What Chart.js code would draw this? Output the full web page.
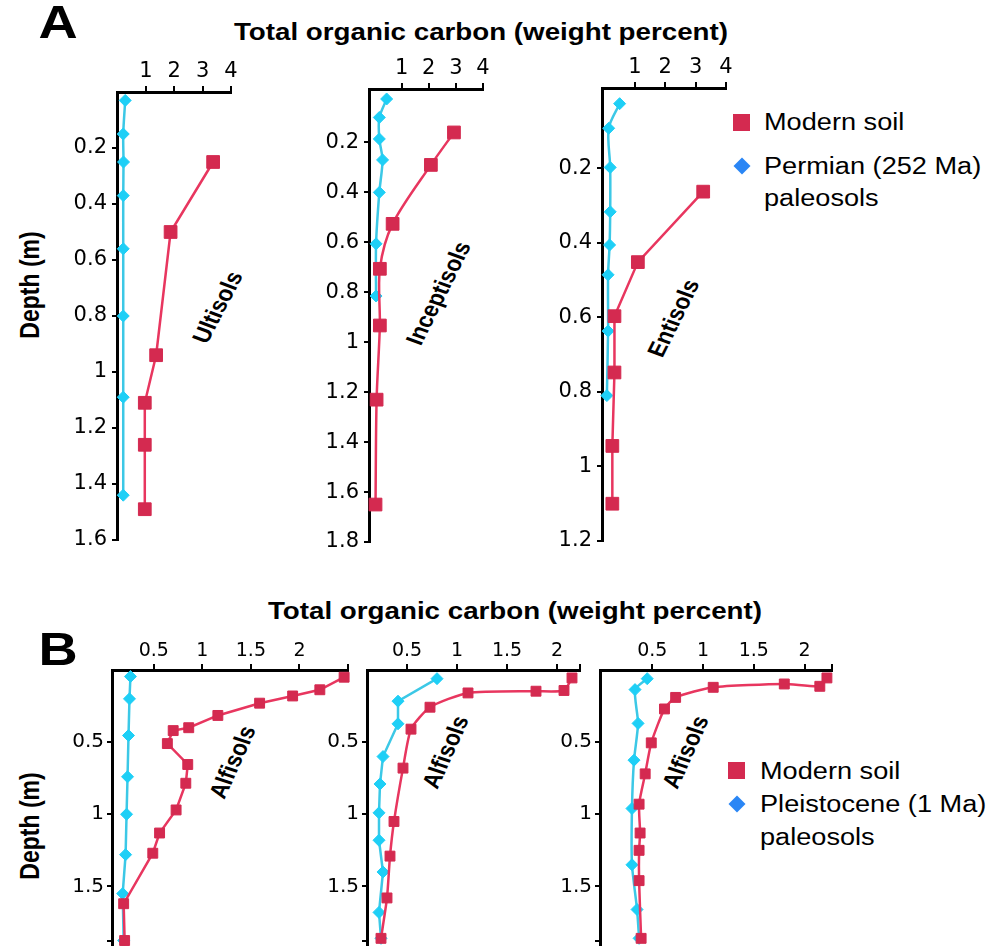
<!DOCTYPE html>
<html><head><meta charset="utf-8">
<script src="https://cdn.jsdelivr.net/npm/chart.js@4.4.1/dist/chart.umd.min.js"></script>
<style>
html,body{margin:0;padding:0;background:#fff;width:994px;height:946px;overflow:hidden;position:relative;font-family:"Liberation Sans",Arial,sans-serif;}
canvas{position:absolute;}
.t{position:absolute;white-space:nowrap;color:#000;line-height:1;}
.c{transform:translate(-50%,-50%) scaleX(1.18);}
.l{transform-origin:0 50%;transform:translateY(-50%) scaleX(1.18);}
.b{font-weight:bold;}
</style></head><body>

<div class="t b c" style="left:58px;top:22px;font-size:46px;">A</div>
<div class="t b c" style="left:58px;top:649px;font-size:46px;">B</div>
<div class="t b c" style="left:481px;top:33px;font-size:23.5px;">Total organic carbon (weight percent)</div>
<div class="t b c" style="left:515px;top:612px;font-size:23.5px;">Total organic carbon (weight percent)</div>
<div class="t b" style="left:30px;top:285px;font-size:23px;transform:translate(-50%,-50%) scaleX(1.18) rotate(-90deg);">Depth (m)</div>
<div class="t b" style="left:30px;top:826px;font-size:23px;transform:translate(-50%,-50%) scaleX(1.18) rotate(-90deg);">Depth (m)</div>

<div class="t b" style="left:217px;top:307px;font-size:21px;transform:translate(-50%,-50%) scaleX(1.18) rotate(-66deg);">Ultisols</div>
<div class="t b" style="left:438px;top:293px;font-size:21px;transform:translate(-50%,-50%) scaleX(1.18) rotate(-67deg);">Inceptisols</div>
<div class="t b" style="left:673px;top:318px;font-size:21px;transform:translate(-50%,-50%) scaleX(1.18) rotate(-67deg);">Entisols</div>
<div class="t b" style="left:232px;top:762px;font-size:21px;transform:translate(-50%,-50%) scaleX(1.18) rotate(-69deg);">Alfisols</div>
<div class="t b" style="left:445px;top:752px;font-size:21px;transform:translate(-50%,-50%) scaleX(1.18) rotate(-69deg);">Alfisols</div>
<div class="t b" style="left:685px;top:752px;font-size:21px;transform:translate(-50%,-50%) scaleX(1.18) rotate(-69deg);">Alfisols</div>

<div style="position:absolute;left:733px;top:114px;width:17px;height:17px;background:#D42A50;"></div>
<div class="t l" style="left:764px;top:122px;font-size:23px;">Modern soil</div>
<div style="position:absolute;left:736px;top:160px;width:12px;height:12px;background:#2A86F5;transform:rotate(45deg);"></div>
<div class="t l" style="left:764px;top:166px;font-size:23px;">Permian (252 Ma)</div>
<div class="t l" style="left:764px;top:198px;font-size:23px;">paleosols</div>

<div style="position:absolute;left:728px;top:762px;width:17px;height:17px;background:#D42A50;"></div>
<div class="t l" style="left:760px;top:771px;font-size:23px;">Modern soil</div>
<div style="position:absolute;left:731px;top:798px;width:12px;height:12px;background:#2A86F5;transform:rotate(45deg);"></div>
<div class="t l" style="left:760px;top:804px;font-size:23px;">Pleistocene (1 Ma)</div>
<div class="t l" style="left:760px;top:837px;font-size:23px;">paleosols</div>

<script>
// ---------- tick labels ----------
const panelAXTicks = [1, 2, 3, 4];
const ultisolsYTicks = [0.2, 0.4, 0.6, 0.8, 1, 1.2, 1.4, 1.6];
const inceptisolsYTicks = [0.2, 0.4, 0.6, 0.8, 1, 1.2, 1.4, 1.6, 1.8];
const entisolsYTicks = [0.2, 0.4, 0.6, 0.8, 1, 1.2];
const panelBXTicks = [0.5, 1, 1.5, 2];
const panelBYTicks = [0.5, 1, 1.5];

// ---------- A: Ultisols ----------
const ultisolsModernTOC = [3.37, 1.87, 1.36, 0.96, 0.96, 0.96];
const ultisolsModernDepth = [0.25, 0.50, 0.94, 1.11, 1.26, 1.49];
const ultisolsPermianTOC = [0.27, 0.20, 0.21, 0.20, 0.20, 0.20, 0.20, 0.20];
const ultisolsPermianDepth = [0.03, 0.15, 0.25, 0.37, 0.56, 0.80, 1.09, 1.44];

// ---------- A: Inceptisols ----------
const inceptisolsModernTOC = [2.93, 2.08, 0.67, 0.20, 0.20, 0.08, 0.04];
const inceptisolsModernDepth = [0.16, 0.29, 0.526, 0.706, 0.933, 1.23, 1.65];
const inceptisolsPermianTOC = [0.45, 0.18, 0.18, 0.30, 0.18, 0.06, 0.06];
const inceptisolsPermianDepth = [0.026, 0.10, 0.186, 0.27, 0.40, 0.606, 0.815];

// ---------- A: Entisols ----------
const entisolsModernTOC = [3.25, 1.10, 0.33, 0.33, 0.26, 0.26];
const entisolsModernDepth = [0.263, 0.452, 0.597, 0.748, 0.945, 1.10];
const entisolsPermianTOC = [0.50, 0.14, 0.19, 0.19, 0.17, 0.12, 0.12, 0.08];
const entisolsPermianDepth = [0.027, 0.093, 0.198, 0.317, 0.406, 0.486, 0.637, 0.81];

// ---------- B: Alfisols 1 ----------
const alfisols1ModernTOC = [2.46, 2.21, 1.93, 1.59, 1.16, 0.86, 0.70, 0.64, 0.85, 0.83, 0.73, 0.56, 0.49, 0.19, 0.20];
const alfisols1ModernDepth = [0.05, 0.137, 0.18, 0.23, 0.315, 0.40, 0.42, 0.51, 0.655, 0.785, 0.97, 1.13, 1.27, 1.62, 1.875];
const alfisols1PleistoceneTOC = [0.26, 0.25, 0.24, 0.23, 0.22, 0.21, 0.18, 0.19];
const alfisols1PleistoceneDepth = [0.045, 0.20, 0.454, 0.74, 1.0, 1.28, 1.55, 1.875];

// ---------- B: Alfisols 2 ----------
const alfisols2ModernTOC = [2.15, 2.07, 1.79, 1.11, 0.73, 0.54, 0.46, 0.37, 0.33, 0.30, 0.24];
const alfisols2ModernDepth = [0.055, 0.142, 0.147, 0.159, 0.258, 0.41, 0.68, 1.05, 1.29, 1.58, 1.86];
const alfisols2PleistoceneTOC = [0.80, 0.41, 0.41, 0.26, 0.23, 0.22, 0.22, 0.26, 0.22, 0.24];
const alfisols2PleistoceneDepth = [0.06, 0.216, 0.373, 0.60, 0.79, 0.99, 1.18, 1.40, 1.68, 1.86];

// ---------- B: Alfisols 3 ----------
const alfisols3ModernTOC = [2.22, 2.15, 1.80, 1.10, 0.73, 0.62, 0.49, 0.43, 0.37, 0.38, 0.37, 0.37, 0.39];
const alfisols3ModernDepth = [0.055, 0.113, 0.097, 0.12, 0.19, 0.27, 0.505, 0.72, 0.93, 1.13, 1.25, 1.46, 1.86];
const alfisols3PleistoceneTOC = [0.45, 0.33, 0.36, 0.32, 0.30, 0.30, 0.35, 0.37];
const alfisols3PleistoceneDepth = [0.06, 0.136, 0.37, 0.625, 0.96, 1.35, 1.66, 1.86];

// ---------- drawing ----------
const RED_LINE = '#E8365F', RED_PT = '#D42A50';
const CYAN_LINE = '#3CC8E6', CYAN_PT = '#1ECFF6';
const TICK_FONT = '"DejaVu Sans", "Liberation Sans", Arial, sans-serif';

function pts(xs, ys) { return xs.map((x, i) => ({ x: x, y: ys[i] })); }

function panel(g, modern, paleo) {
  const yW = 70, xH = 50, padR = 20, padB = 25;
  const w = g.right - g.left + yW + padR;
  const h = g.bottom - g.top + xH + padB;
  const c = document.createElement('canvas');
  c.width = w; c.height = h;
  c.style.left = (g.left - yW) + 'px';
  c.style.top = (g.top - xH) + 'px';
  c.style.width = w + 'px'; c.style.height = h + 'px';
  document.body.appendChild(c);
  const lab = list => (v) => list.includes(v) ? String(v) : '';
  new Chart(c, {
    type: 'line',
    data: {
      datasets: [
        { data: modern.data, borderColor: RED_LINE, borderWidth: 2.5, tension: modern.tension,
          pointStyle: 'rect', pointRadius: g.redR, pointBackgroundColor: RED_PT, pointBorderColor: RED_PT,
          pointBorderWidth: 1, clip: false, fill: false },
        { data: paleo.data, borderColor: CYAN_LINE, borderWidth: 2.5, tension: paleo.tension,
          pointStyle: 'rectRot', pointRadius: g.cyanR, pointBackgroundColor: CYAN_PT, pointBorderColor: CYAN_PT,
          pointBorderWidth: 1, clip: false, fill: false }
      ]
    },
    options: {
      responsive: false, animation: false, devicePixelRatio: 1, events: [],
      layout: { padding: { left: 0, top: 0, right: padR, bottom: padB } },
      plugins: { legend: { display: false }, tooltip: { enabled: false } },
      scales: {
        x: {
          type: 'linear', position: 'top', min: g.xMin, max: g.xMax,
          afterFit: s => { s.height = xH; },
          afterBuildTicks: s => { s.ticks = g.xTicks.map(v => ({ value: v })); },
          ticks: { callback: lab(g.xLabels), color: '#000', font: { family: TICK_FONT, size: g.xFont }, padding: g.xPad, maxRotation: 0, autoSkip: false },
          grid: { drawOnChartArea: false, drawTicks: true, tickLength: 6, color: '#000', lineWidth: 2 },
          border: { display: true, color: '#000', width: 3 }
        },
        y: {
          type: 'linear', position: 'left', reverse: true, min: g.yMin, max: g.yMax,
          afterFit: s => { s.width = yW; },
          afterBuildTicks: s => { s.ticks = g.yTicks.map(v => ({ value: v })); },
          ticks: { callback: lab(g.yLabels), color: '#000', font: { family: TICK_FONT, size: g.yFont }, padding: g.yPad, autoSkip: false },
          grid: { drawOnChartArea: false, drawTicks: true, tickLength: 5, color: '#000', lineWidth: 2 },
          border: { display: true, color: '#000', width: 3 }
        }
      }
    }
  });
}

const bEndX1 = 2.5, bEndX2 = 2.23, bEndX3 = 2.27, bEndY = 1.88;

panel({ left: 117, right: 231, top: 92, bottom: 540, xMin: -0.02, xMax: 4, yMin: 0, yMax: 1.6,
        xTicks: panelAXTicks, xLabels: panelAXTicks, yTicks: ultisolsYTicks, yLabels: ultisolsYTicks,
        xFont: 21, yFont: 21, xPad: 2, yPad: 5, redR: 9, cyanR: 6 },
      { data: pts(ultisolsModernTOC, ultisolsModernDepth), tension: 0 },
      { data: pts(ultisolsPermianTOC, ultisolsPermianDepth), tension: 0.3 });

panel({ left: 369, right: 483, top: 89, bottom: 542, xMin: -0.2, xMax: 4, yMin: -0.014, yMax: 1.8,
        xTicks: panelAXTicks, xLabels: panelAXTicks, yTicks: inceptisolsYTicks, yLabels: inceptisolsYTicks,
        xFont: 21, yFont: 21, xPad: 2, yPad: 5, redR: 9, cyanR: 6 },
      { data: pts(inceptisolsModernTOC, inceptisolsModernDepth), tension: 0.3 },
      { data: pts(inceptisolsPermianTOC, inceptisolsPermianDepth), tension: 0.25 });

panel({ left: 602, right: 726, top: 88, bottom: 541, xMin: -0.08, xMax: 4, yMin: -0.015, yMax: 1.2,
        xTicks: panelAXTicks, xLabels: panelAXTicks, yTicks: entisolsYTicks, yLabels: entisolsYTicks,
        xFont: 21, yFont: 21, xPad: 2, yPad: 5, redR: 9, cyanR: 6 },
      { data: pts(entisolsModernTOC, entisolsModernDepth), tension: 0 },
      { data: pts(entisolsPermianTOC, entisolsPermianDepth), tension: 0.3 });

panel({ left: 112, right: 348, top: 670, bottom: 947, xMin: 0.07, xMax: bEndX1, yMin: 0, yMax: 1.92,
        xTicks: panelBXTicks.concat([bEndX1]), xLabels: panelBXTicks, yTicks: panelBYTicks.concat([bEndY]), yLabels: panelBYTicks,
        xFont: 19, yFont: 20, xPad: 2, yPad: 3, redR: 7, cyanR: 6 },
      { data: pts(alfisols1ModernTOC, alfisols1ModernDepth), tension: 0 },
      { data: pts(alfisols1PleistoceneTOC, alfisols1PleistoceneDepth), tension: 0 });

panel({ left: 367, right: 580, top: 670, bottom: 947, xMin: 0.1, xMax: bEndX2, yMin: 0, yMax: 1.92,
        xTicks: panelBXTicks.concat([bEndX2]), xLabels: panelBXTicks, yTicks: panelBYTicks.concat([bEndY]), yLabels: panelBYTicks,
        xFont: 19, yFont: 20, xPad: 2, yPad: 3, redR: 7, cyanR: 6 },
      { data: pts(alfisols2ModernTOC, alfisols2ModernDepth), tension: 0.2 },
      { data: pts(alfisols2PleistoceneTOC, alfisols2PleistoceneDepth), tension: 0 });

panel({ left: 600, right: 832, top: 670, bottom: 947, xMin: -0.015, xMax: bEndX3, yMin: 0, yMax: 1.92,
        xTicks: panelBXTicks.concat([bEndX3]), xLabels: panelBXTicks, yTicks: panelBYTicks.concat([bEndY]), yLabels: panelBYTicks,
        xFont: 19, yFont: 20, xPad: 2, yPad: 3, redR: 7, cyanR: 6 },
      { data: pts(alfisols3ModernTOC, alfisols3ModernDepth), tension: 0.2 },
      { data: pts(alfisols3PleistoceneTOC, alfisols3PleistoceneDepth), tension: 0.2 });
</script>
</body></html>
